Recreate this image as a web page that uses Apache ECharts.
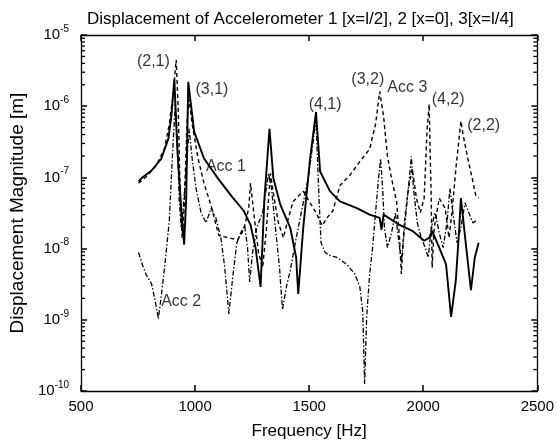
<!DOCTYPE html>
<html><head><meta charset="utf-8">
<script src="https://cdn.jsdelivr.net/npm/echarts@6/dist/echarts.min.js"></script>
<style>html,body{margin:0;padding:0;background:#fff}#c{width:557px;height:445px}</style>
</head><body><div id="c"></div>
<script>
// ---- data (Frequency [Hz], Displacement [m]) ----
const acc1Freq = [752,765,809,852,883,896,909,922,939,952,961,970,996,1039,1100,1157,1213,1243,1265,1287,1304,1326,1343,1374,1417,1443,1452,1474,1504,1530,1548,1591,1635,1709,1765,1809,1817,1826,1896,1952,2004,2026,2039,2070,2100,2122,2143,2157,2165,2187,2209,2226,2243];
const acc1Val = [8.8e-8,9.7e-8,1.25e-7,1.84e-7,3.5e-7,7.3e-7,2.4e-6,2.5e-7,3.7e-8,1.14e-8,5.1e-8,2.2e-6,4.4e-7,1.84e-7,9.7e-8,5.6e-8,3.4e-8,2.15e-8,1.03e-8,2.9e-9,5.1e-8,4.8e-7,9.7e-8,4.1e-8,1.96e-8,7.5e-9,2.3e-9,1.96e-8,1.84e-7,8.3e-7,1.21e-7,6.4e-8,4.6e-8,3.7e-8,3.0e-8,2.7e-8,1.84e-8,3.0e-8,2.15e-8,1.78e-8,1.29e-8,1.42e-8,1.78e-8,1.03e-8,6.0e-9,1.1e-9,3.6e-9,1.78e-8,5.1e-8,1.14e-8,2.6e-9,7.5e-9,1.21e-8];

const acc2Freq = [752,770,787,809,826,839,852,870,887,900,913,922,930,939,948,961,974,987,1004,1026,1048,1070,1091,1113,1130,1148,1165,1183,1200,1217,1230,1239,1252,1270,1296,1322,1335,1352,1370,1383,1400,1417,1435,1452,1474,1496,1513,1530,1543,1552,1570,1591,1622,1665,1700,1722,1735,1743,1752,1765,1778,1791,1804,1813,1822,1830,1843,1861,1878,1891,1904,1922,1939,1948,1957,1974,1991,2009,2022,2035,2052,2070,2087,2104,2117,2130,2148,2165,2183,2200,2217,2235];
const acc2Val = [8.8e-9,5.8e-9,4.2e-9,3.2e-9,1.78e-9,1.03e-9,2.2e-9,7.0e-9,2.5e-8,1.84e-7,1.07e-6,3.5e-7,5.1e-8,1.96e-8,3.7e-8,1.33e-7,4.8e-7,1.84e-7,7.0e-8,3.2e-8,2.3e-8,3.7e-8,2.7e-8,1.42e-8,5.4e-9,1.21e-9,4.0e-9,1.21e-8,1.67e-8,2.1e-8,1.03e-8,3.4e-9,8.8e-9,1.96e-8,3.2e-8,1.14e-7,7.0e-8,1.96e-8,5.4e-9,1.38e-9,2.9e-9,4.9e-9,1.03e-8,1.96e-8,4.4e-8,9.7e-8,2.5e-7,6.6e-7,5.1e-8,1.21e-8,8.8e-9,8.0e-9,7.5e-9,6.0e-9,4.4e-9,2.9e-9,1.29e-9,1.25e-10,1.1e-9,4.4e-9,1.03e-8,3.2e-8,9.7e-8,1.84e-7,7.0e-8,1.96e-8,1.03e-8,1.67e-8,3.2e-8,1.42e-8,6.4e-9,2.7e-8,9.7e-8,1.96e-7,7.0e-8,2.3e-8,1.42e-8,1.03e-8,7.5e-9,1.96e-8,3.2e-8,1.67e-8,1.03e-8,2.3e-8,7.0e-8,3.2e-8,1.21e-8,1.96e-8,4.4e-8,3.2e-8,2.3e-8,2.5e-8];

const acc3Freq = [752,787,830,865,887,904,917,926,935,943,952,965,974,987,1013,1039,1070,1104,1148,1187,1213,1235,1243,1257,1278,1296,1313,1330,1343,1365,1387,1409,1430,1474,1504,1530,1557,1578,1604,1635,1678,1722,1765,1791,1809,1826,1843,1861,1883,1896,1904,1917,1935,1952,1970,1987,2004,2017,2026,2030,2035,2039,2048,2070,2096,2113,2126,2143,2157,2165,2174,2187,2200,2213,2230,2243];
const acc3Val = [8.3e-8,1.03e-7,1.47e-7,2.5e-7,5.6e-7,1.47e-6,4.5e-6,9.1e-7,5.1e-8,1.42e-8,3.7e-8,6.6e-7,1.25e-6,5.6e-7,1.84e-7,8.3e-8,4.0e-8,1.52e-8,1.42e-8,1.33e-8,1.84e-8,3.7e-8,8.3e-8,3.2e-8,8.8e-9,5.4e-9,1.96e-8,1.14e-7,6.0e-8,2.3e-8,1.42e-8,2.7e-8,4.6e-8,6.4e-8,4.4e-8,3.2e-8,2.1e-8,2.7e-8,3.4e-8,7.7e-8,1.07e-7,1.67e-7,2.5e-7,5.6e-7,1.61e-6,7.3e-7,2.0e-7,9.7e-8,4.6e-8,1.42e-8,4.4e-9,2.3e-8,7.0e-8,1.33e-7,5.1e-8,3.2e-8,5.1e-8,4.8e-7,1.07e-6,2.5e-7,5.1e-8,5.4e-9,1.96e-8,5.1e-8,3.7e-8,1.42e-8,3.2e-8,1.33e-7,3.5e-7,6.2e-7,4.1e-7,2.5e-7,1.56e-7,1.03e-7,5.6e-8,5.1e-8];

// annotations (text placed at data coordinates)
const annText = ['(2,1)','(3,1)','Acc 1','(4,1)','(3,2)','Acc 3','(4,2)','(2,2)','Acc 2'];
const annFreq = [817,1074,1135,1570,1757,1930,2109,2265,939];
const annVal  = [4.2e-6,1.72e-6,1.42e-7,1.07e-6,2.37e-6,1.84e-6,1.25e-6,5.3e-7,1.78e-9];

const xTickLabels = ['500','1000','1500','2000','2500'];
const yDecades = [-10,-9,-8,-7,-6];        // decades that carry minor ticks
const minorMantissas = [2,3,4,5,6,7,8,9];   // log-axis minor tick positions
const titleText = 'Displacement of Accelerometer 1 [x=l/2], 2 [x=0], 3[x=l/4]';

function pairs(f, v){ return f.map((x,i)=>[x, v[i]]); }
const FONT = '"Liberation Sans", Arial, Helvetica, sans-serif';
const chart = echarts.init(document.getElementById('c'), null, {renderer:'canvas'});

function xAx(pos, labels){
  return {type:'value', position:pos, min:500, max:2500, interval:500,
    axisLine:{show:true, onZero:false, lineStyle:{color:'#000', width:1.3}},
    axisTick:{show:true, inside:true, length:6, lineStyle:{color:'#000', width:1.5}},
    splitLine:{show:false},
    axisLabel:{show:labels, color:'#000', fontFamily:FONT, fontSize:15, margin:8,
      formatter:(v)=>xTickLabels[Math.round((v-500)/500)] || ''},
    name: labels ? 'Frequency [Hz]' : '', nameLocation:'middle', nameGap:32,
    nameTextStyle:{color:'#000', fontFamily:FONT, fontSize:17}};
}
function yAx(pos, labels){
  return {type:'log', logBase:10, position:pos, min:1e-10, max:1e-5,
    axisLine:{show:true, onZero:false, lineStyle:{color:'#000', width:1.3}},
    axisTick:{show:true, inside:true, length:6, lineStyle:{color:'#000', width:1.5}},
    splitLine:{show:false},
    axisLabel:{show:labels, margin:12, formatter:(v)=>'{b|10}{s|'+Math.round(Math.log10(v))+'}',
      rich:{b:{fontSize:15, fontFamily:FONT, color:'#000'},
            s:{fontSize:10, fontFamily:FONT, color:'#000', padding:[0,0,12,0]}}},
    name: labels ? 'Displacement Magnitude [m]' : '', nameLocation:'middle', nameGap:46,
    nameTextStyle:{color:'#000', fontFamily:FONT, fontSize:19}};
}

const minorTickValues = [];
yDecades.forEach(d => minorMantissas.forEach(m => minorTickValues.push([500, m * Math.pow(10, d)])));

chart.setOption({
  animation:false,
  backgroundColor:'#fff',
  title:{text:titleText, left:82, top:6, textStyle:{color:'#000', fontFamily:FONT, fontSize:17, fontWeight:'normal'}},
  grid:{left:79, right:19, top:35, bottom:50, containLabel:false},
  xAxis:[xAx('bottom', true), xAx('top', false)],
  yAxis:[yAx('left', true), yAx('right', false)],
  series:[
    {name:'Acc 1', type:'line', symbol:'none', data:pairs(acc1Freq, acc1Val),
     lineStyle:{color:'#000', width:1.9, type:'solid'}},
    {name:'Acc 2', type:'line', symbol:'none', data:pairs(acc2Freq, acc2Val),
     lineStyle:{color:'#000', width:1.3, type:[5,2,1.5,2]}},
    {name:'Acc 3', type:'line', symbol:'none', data:pairs(acc3Freq, acc3Val),
     lineStyle:{color:'#000', width:1.4, type:[4,3]}},
    {name:'labels', type:'scatter', symbolSize:0, silent:true,
     data: annText.map((t,i)=>({name:t, value:[annFreq[i], annVal[i]]})),
     label:{show:true, position:[0,0], align:'center', verticalAlign:'middle',
            formatter:(p)=>p.name, color:'#000', fontFamily:FONT, fontSize:16}},
    {name:'minorTicks', type:'custom', silent:true, data:minorTickValues, clip:false,
     renderItem:(params, api)=>{
       const v = api.value(1);
       const l = api.coord([500, v]), r = api.coord([2500, v]);
       return {type:'group', children:[
         {type:'line', shape:{x1:l[0], y1:l[1], x2:l[0]+4, y2:l[1]}, style:{stroke:'#000', lineWidth:1.3}},
         {type:'line', shape:{x1:r[0]-4, y1:r[1], x2:r[0], y2:r[1]}, style:{stroke:'#000', lineWidth:1.3}}
       ]};
     }}
  ]
});
</script></body></html>
